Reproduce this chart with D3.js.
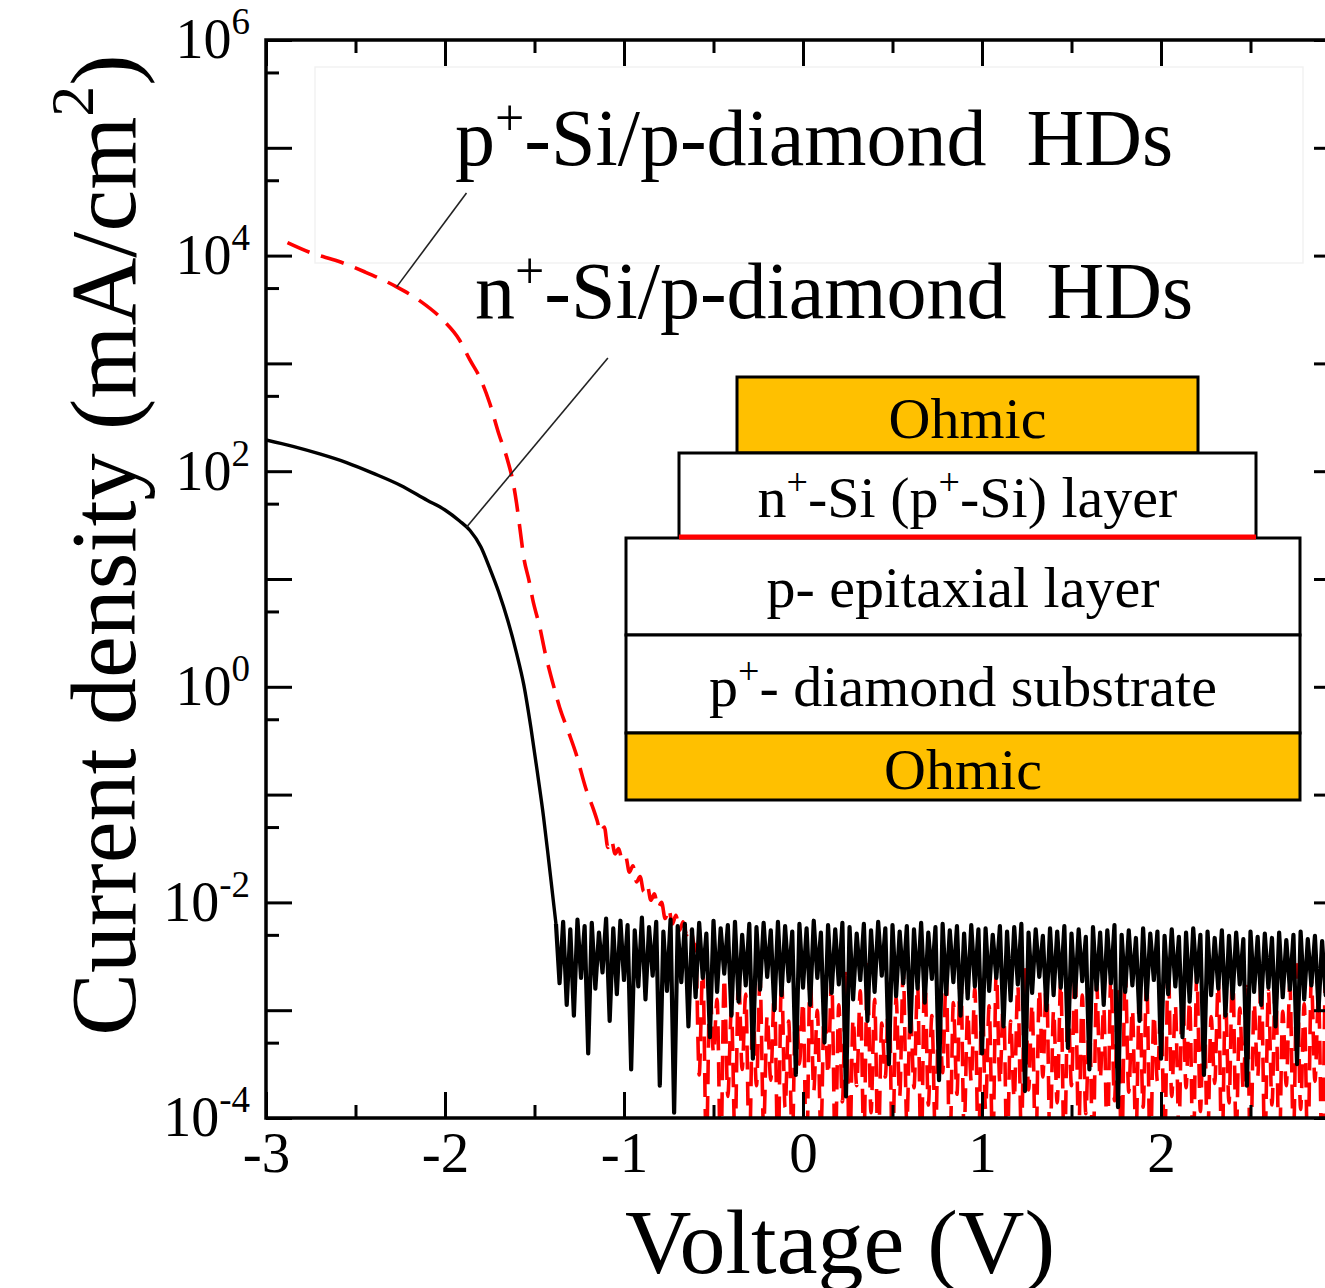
<!DOCTYPE html>
<html>
<head>
<meta charset="utf-8">
<script src="https://cdn.jsdelivr.net/npm/d3@7"></script>
<style>
  body { margin: 0; background: #fff; }
  svg { display: block; font-family: "Liberation Serif", "Times New Roman", serif; }
  .axis text { font-family: "Liberation Serif", "Times New Roman", serif; fill: #000; }
  .axis line { stroke: #000; stroke-width: 3; }
</style>
</head>
<body>
<svg id="svg"></svg>
<script>
// ---- data (log10 of current density in mA/cm^2) ----
var voltStep = 0.02;

// n+-Si / p-diamond (black, solid)
var nSmoothV   = [-3.00, -2.85, -2.70, -2.55, -2.40, -2.25, -2.10, -2.00, -1.92, -1.86, -1.80,
                  -1.75, -1.70, -1.65, -1.60, -1.56, -1.52, -1.48, -1.45, -1.42, -1.40];
var nSmoothLog = [ 2.29,  2.23,  2.16,  2.08,  1.98,  1.87,  1.73,  1.64,  1.54,  1.45,  1.30,
                   1.10,  0.88,  0.62,  0.31,  0.02, -0.38, -0.84, -1.20, -1.62, -1.91];
var nNoiseStart = -1.38;
var nNoiseLog = [
  -2.20,-2.75,-2.18,-2.95,-2.25,-3.05,-2.16,-2.70,-2.22,-3.40,-2.19,-2.80,-2.28,-2.65,-2.15,-3.10,-2.24,-2.85,-2.17,-2.72,
  -2.21,-3.55,-2.26,-2.78,-2.14,-2.90,-2.23,-2.68,-2.18,-3.70,-2.27,-2.82,-2.16,-3.95,-2.22,-2.74,-2.20,-3.15,-2.25,-2.88,
  -2.19,-2.70,-2.29,-3.25,-2.17,-2.83,-2.24,-2.66,-2.21,-3.05,-2.18,-2.92,-2.30,-2.77,-2.20,-3.45,-2.23,-2.81,-2.19,-2.69,
  -2.26,-3.00,-2.18,-2.86,-2.22,-2.73,-2.27,-3.60,-2.20,-2.79,-2.24,-2.95,-2.17,-2.70,-2.28,-3.30,-2.21,-2.84,-2.25,-2.76,
  -2.19,-3.80,-2.23,-2.90,-2.29,-2.72,-2.20,-3.10,-2.26,-2.83,-2.18,-2.68,-2.24,-3.50,-2.21,-2.87,-2.27,-2.75,-2.22,-3.20,
  -2.25,-2.80,-2.19,-2.93,-2.28,-2.71,-2.23,-3.65,-2.20,-2.85,-2.26,-2.74,-2.22,-3.05,-2.29,-2.89,-2.21,-2.78,-2.25,-3.40,
  -2.24,-2.82,-2.30,-2.70,-2.22,-3.15,-2.27,-2.91,-2.23,-2.76,-2.20,-3.75,-2.28,-2.84,-2.25,-2.69,-2.31,-3.00,-2.24,-2.86,
  -2.27,-2.79,-2.22,-3.35,-2.29,-2.88,-2.25,-2.73,-2.32,-3.55,-2.23,-2.81,-2.28,-2.95,-2.26,-2.75,-2.21,-3.90,-2.30,-2.83,
  -2.26,-2.77,-2.33,-3.10,-2.24,-2.90,-2.29,-2.72,-2.27,-3.45,-2.31,-2.85,-2.25,-2.78,-2.32,-3.25,-2.28,-2.92,-2.24,-2.74,
  -2.30,-3.60,-2.27,-2.86,-2.33,-2.80,-2.26,-3.05,-2.31,-2.89,-2.28,-2.76,-2.34,-3.70,-2.27,-2.83,-2.32,-2.95,-2.29,-2.79,
  -2.33,-3.15,-2.28,-2.88,-2.35,-2.81,-2.30,-3.50,-2.27,-2.90,-2.34,-2.77,-2.31,-3.00,-2.36,-2.86,-2.29,-3.80,-2.33,-2.84,-2.30
];

// p+-Si / p-diamond (red, dashed)
var pSmoothV   = [-2.88, -2.74, -2.60, -2.45, -2.27, -2.14, -2.01, -1.92, -1.86, -1.80, -1.75, -1.70,
                  -1.65, -1.62, -1.60, -1.58, -1.56, -1.53, -1.51, -1.47, -1.44, -1.40, -1.36, -1.31,
                  -1.27, -1.21, -1.17, -1.15, -1.13, -1.11, -1.09, -1.07, -1.05, -1.03, -1.01, -0.99,
                  -0.97, -0.95, -0.93, -0.91, -0.89, -0.87, -0.85, -0.83, -0.81, -0.79, -0.77, -0.75,
                  -0.73, -0.71, -0.69, -0.67, -0.65, -0.63, -0.61];
var pSmoothLog = [ 4.12,  4.02,  3.95,  3.85,  3.71,  3.58,  3.40,  3.22,  3.03,  2.85,  2.63,  2.35,
                   2.10,  1.90,  1.70,  1.45,  1.20,  0.98,  0.81,  0.55,  0.31,  0.05, -0.19, -0.42,
                  -0.61, -0.96, -1.14, -1.24, -1.35, -1.30, -1.49, -1.42, -1.55, -1.50, -1.61, -1.58,
                  -1.72, -1.66, -1.81, -1.76, -1.90, -1.84, -1.98, -1.92, -2.05, -2.00, -2.15, -2.06,
                  -2.20, -2.12, -2.26, -2.18, -2.30, -2.22, -2.38];
var pNoiseStart = -0.60;
var pNoiseLog = [
  -2.40,-3.60,-2.60,-4.30,-2.75,-3.40,-2.90,-4.40,-2.70,-3.80,-3.00,-4.20,-2.65,-3.55,-2.85,-4.35,-2.95,-3.70,-2.72,-4.10,
  -3.05,-3.65,-2.80,-4.40,-2.68,-3.90,-3.10,-4.25,-2.78,-3.50,-2.92,-4.40,-2.62,-3.75,-3.00,-4.15,-2.85,-3.60,-2.70,-4.30,
  -2.95,-3.85,-2.66,-4.40,-3.08,-3.70,-2.82,-4.20,-2.58,-3.95,-2.90,-4.35,-3.12,-3.62,-2.74,-4.40,-2.88,-3.80,-2.64,-4.05,
  -2.98,-3.72,-2.76,-4.40,-2.60,-3.88,-3.05,-4.22,-2.84,-3.58,-2.69,-4.38,-2.93,-3.78,-2.55,-4.12,-3.02,-3.66,-2.80,-4.40,
  -2.72,-3.92,-2.96,-4.30,-2.63,-3.68,-2.87,-4.40,-3.10,-3.82,-2.77,-4.18,-2.59,-3.74,-2.94,-4.40,-2.81,-3.62,-2.67,-4.26,
  -3.00,-3.86,-2.73,-4.40,-2.90,-3.70,-2.61,-4.15,-2.86,-3.96,-3.07,-4.40,-2.75,-3.64,-2.97,-4.28,-2.68,-3.84,-2.83,-4.40,
  -2.62,-3.76,-2.99,-4.20,-2.79,-3.90,-2.70,-4.40,-3.04,-3.66,-2.88,-4.34,-2.57,-3.80,-2.95,-4.10,-2.74,-3.72,-2.91,-4.40,
  -2.66,-3.94,-2.85,-4.24,-3.06,-3.68,-2.72,-4.40,-2.89,-3.86,-2.60,-4.16,-2.98,-3.74,-2.78,-4.40,-2.93,-3.62,-2.69,-4.30,
  -2.82,-3.88,-2.64,-4.40,-3.01,-3.70,-2.76,-4.20,-2.58,-3.92,-2.94,-4.36,-2.71,-3.66,-2.87,-4.40,-2.65,-3.80,-2.90,-4.14,
  -2.75
];

// axes
var xMajor = [-3, -2, -1, 0, 1, 2, 3];
var xMinor = [-2.5, -1.5, -0.5, 0.5, 1.5, 2.5];
var xLabels = [-3, -2, -1, 0, 1, 2];
var yMajorExp = [-4, -3, -2, -1, 0, 1, 2, 3, 4, 5, 6];
var yMinorVals = [5e-4, 5e-3, 5e-2, 5e-1, 5, 50, 500, 5e3, 5e4, 5e5];
var yLabelExp = [-4, -2, 0, 2, 4, 6];

var insetLabels = ['Ohmic', 'n^{+}-Si (p^{+}-Si) layer', 'p- epitaxial layer', 'p^{+}- diamond substrate', 'Ohmic'];

// ---- layout ----
var W = 1325, H = 1288;
var plot = { left: 266, right: 1340, top: 40, bottom: 1118 };

var svg = d3.select('#svg').attr('width', W).attr('height', H);

var x = d3.scaleLinear().domain([-3, 3]).range([plot.left, plot.right]);
var y = d3.scaleLog().domain([1e-4, 1e6]).range([plot.bottom, plot.top]);

function smoothPart(sv, sl) {
    return sv.map(function(v, i) { return { v: v, j: Math.pow(10, sl[i]) }; });
}
function noisePart(start, nl) {
    return nl.map(function(l, i) { return { v: start + i * voltStep, j: Math.pow(10, l) }; });
}
var nSmooth = smoothPart(nSmoothV, nSmoothLog);
var nNoise = noisePart(nNoiseStart, nNoiseLog);
var pSeries = smoothPart(pSmoothV, pSmoothLog).concat(noisePart(pNoiseStart, pNoiseLog));

// small rich text helper: "a^{b}c" -> superscript tspans
function richText(sel, str, supSize, rise) {
    var parts = str.split(/\^\{([^}]*)\}/);
    parts.forEach(function(p, i) {
        if (p === '') return;
        var t = sel.append('tspan').text(p);
        if (i % 2 === 1) {
            t.attr('font-size', supSize).attr('dy', -rise);
        } else if (i > 0) {
            t.attr('dy', rise);
        }
    });
}

// faint text box behind annotations
svg.append('rect')
    .attr('x', 315).attr('y', 67).attr('width', 988).attr('height', 196)
    .attr('fill', 'none').attr('stroke', '#f2f2f2').attr('stroke-width', 1.5);

// ---- curves ----
svg.append('clipPath').attr('id', 'plotClip')
    .append('rect')
    .attr('x', plot.left).attr('y', plot.top)
    .attr('width', plot.right - plot.left).attr('height', plot.bottom - plot.top);

var line = d3.line()
    .x(function(d) { return x(d.v); })
    .y(function(d) { return y(d.j); });
var smoothLine = d3.line()
    .curve(d3.curveMonotoneX)
    .x(function(d) { return x(d.v); })
    .y(function(d) { return y(d.j); });

var curves = svg.append('g').attr('clip-path', 'url(#plotClip)');
curves.append('path')
    .datum(pSeries)
    .attr('d', smoothLine)
    .attr('fill', 'none')
    .attr('stroke', '#ff0000')
    .attr('stroke-width', 3.6)
    .attr('stroke-dasharray', '24,12');
// black: smooth knee, then dense noise floor
curves.append('path')
    .datum(nSmooth.concat([nNoise[0]]))
    .attr('d', smoothLine)
    .attr('fill', 'none')
    .attr('stroke', '#000')
    .attr('stroke-width', 3.4);
curves.append('path')
    .datum(nNoise)
    .attr('d', line)
    .attr('fill', 'none')
    .attr('stroke', '#000')
    .attr('stroke-width', 4.2)
    .attr('stroke-linejoin', 'round');

// ---- axes ----
function tidy(g) { g.select('.domain').remove(); }

var gxb = svg.append('g').attr('class', 'axis')
    .attr('transform', 'translate(0,' + plot.bottom + ')')
    .call(d3.axisBottom(x).tickValues(xMajor).tickSize(-26).tickPadding(14)
        .tickFormat(function(d) { return xLabels.indexOf(d) >= 0 ? String(d) : ''; }))
    .call(tidy);
gxb.selectAll('text').attr('font-size', 57);
svg.append('g').attr('class', 'axis')
    .attr('transform', 'translate(0,' + plot.bottom + ')')
    .call(d3.axisBottom(x).tickValues(xMinor).tickSize(-13).tickFormat(''))
    .call(tidy);
svg.append('g').attr('class', 'axis')
    .attr('transform', 'translate(0,' + plot.top + ')')
    .call(d3.axisTop(x).tickValues(xMajor).tickSize(-26).tickFormat(''))
    .call(tidy);
svg.append('g').attr('class', 'axis')
    .attr('transform', 'translate(0,' + plot.top + ')')
    .call(d3.axisTop(x).tickValues(xMinor).tickSize(-13).tickFormat(''))
    .call(tidy);

var yMajor = yMajorExp.map(function(e) { return Math.pow(10, e); });
var gyl = svg.append('g').attr('class', 'axis')
    .attr('transform', 'translate(' + plot.left + ',0)')
    .call(d3.axisLeft(y).tickValues(yMajor).tickSize(-26).tickPadding(16).tickFormat(''))
    .call(tidy);
svg.append('g').attr('class', 'axis')
    .attr('transform', 'translate(' + plot.left + ',0)')
    .call(d3.axisLeft(y).tickValues(yMinorVals).tickSize(-13).tickFormat(''))
    .call(tidy);
svg.append('g').attr('class', 'axis')
    .attr('transform', 'translate(' + plot.right + ',0)')
    .call(d3.axisRight(y).tickValues(yMajor).tickSize(-26).tickFormat(''))
    .call(tidy);
svg.append('g').attr('class', 'axis')
    .attr('transform', 'translate(' + plot.right + ',0)')
    .call(d3.axisRight(y).tickValues(yMinorVals).tickSize(-13).tickFormat(''))
    .call(tidy);

// y tick labels 10^n
gyl.selectAll('.tick').each(function(d) {
    var e = Math.round(Math.log10(d));
    if (yLabelExp.indexOf(e) < 0) return;
    var t = d3.select(this).select('text')
        .attr('font-size', 56)
        .attr('dy', '0.32em');
    richText(t, '10^{' + e + '}', 37, 24);
});

// frame
svg.append('rect')
    .attr('x', plot.left).attr('y', plot.top)
    .attr('width', plot.right - plot.left).attr('height', plot.bottom - plot.top)
    .attr('fill', 'none').attr('stroke', '#000').attr('stroke-width', 3.5);

// axis titles
svg.append('text')
    .attr('x', 840).attr('y', 1273)
    .attr('text-anchor', 'middle')
    .attr('font-size', 92)
    .text('Voltage (V)');

var yt = svg.append('text')
    .attr('transform', 'translate(135,545) rotate(-90)')
    .attr('text-anchor', 'middle')
    .attr('font-size', 94);
richText(yt, 'Current density (mA/cm^{2})', 62, 42);

// ---- annotations ----
var annoP = svg.append('text').attr('x', 455).attr('y', 165)
    .attr('font-size', 80).style('white-space', 'pre');
richText(annoP, 'p^{+}-Si/p-diamond  HDs', 52, 30);
var annoN = svg.append('text').attr('x', 475).attr('y', 318)
    .attr('font-size', 80).style('white-space', 'pre');
richText(annoN, 'n^{+}-Si/p-diamond  HDs', 52, 30);

// leader lines: from curve point to label
var leaders = [
    { v0: -2.27, j0: Math.pow(10, 3.71), v1: -1.88, j1: Math.pow(10, 4.58) },
    { v0: -1.88, j0: Math.pow(10, 1.48), v1: -1.09, j1: Math.pow(10, 3.05) }
];
svg.selectAll('.leader').data(leaders).enter().append('line')
    .attr('class', 'leader')
    .attr('x1', function(d) { return x(d.v0); })
    .attr('y1', function(d) { return y(d.j0); })
    .attr('x2', function(d) { return x(d.v1); })
    .attr('y2', function(d) { return y(d.j1); })
    .attr('stroke', '#222').attr('stroke-width', 1.6);

// ---- device structure inset ----
var boxes = [
    { x0: 737, x1: 1198, y0: 377, y1: 453, fill: '#FFC000', base: 438 },
    { x0: 679, x1: 1256, y0: 453, y1: 538, fill: '#fff', base: 517 },
    { x0: 626, x1: 1300, y0: 538, y1: 635, fill: '#fff', base: 607 },
    { x0: 626, x1: 1300, y0: 635, y1: 733, fill: '#fff', base: 706 },
    { x0: 626, x1: 1300, y0: 733, y1: 800, fill: '#FFC000', base: 789 }
];
var inset = svg.append('g');
boxes.forEach(function(b) {
    inset.append('rect')
        .attr('x', b.x0).attr('y', b.y0)
        .attr('width', b.x1 - b.x0).attr('height', b.y1 - b.y0)
        .attr('fill', b.fill).attr('stroke', '#000').attr('stroke-width', 3);
});
// red interface line under the Si layer
inset.append('line')
    .attr('x1', boxes[1].x0).attr('x2', boxes[1].x1)
    .attr('y1', boxes[1].y1 - 1).attr('y2', boxes[1].y1 - 1)
    .attr('stroke', '#ff0000').attr('stroke-width', 5);
boxes.forEach(function(b, i) {
    var t = inset.append('text')
        .attr('x', (b.x0 + b.x1) / 2).attr('y', b.base)
        .attr('text-anchor', 'middle')
        .attr('font-size', 58);
    richText(t, insetLabels[i], 38, 22);
});
</script>
</body>
</html>
